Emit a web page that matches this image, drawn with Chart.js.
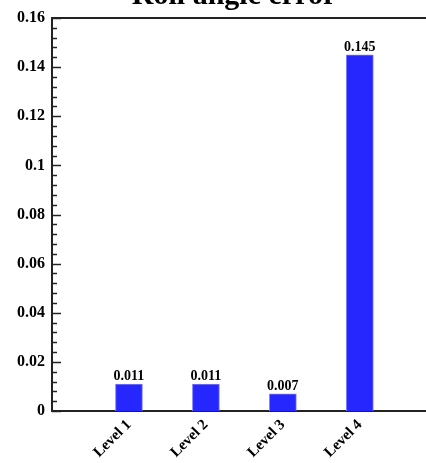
<!DOCTYPE html>
<html>
<head>
  <title>Roll angle error</title>
  <style>
    html, body {
      margin: 0;
      padding: 0;
      overflow: hidden;
      background: #fff;
    }
    #wrap {
      position: relative;
      width: 426px;
      height: 463px;
    }
  </style>
</head>
<body>
  <div id="wrap"><canvas id="chart"></canvas></div>

  <script src="https://cdn.jsdelivr.net/npm/chart.js"></script>
  <script>
    const title = 'Roll angle error';
    const levels = ['Level 1', 'Level 2', 'Level 3', 'Level 4'];
    const positions = [1, 2, 3, 4];
    const errors = [0.011, 0.011, 0.007, 0.145];
    const yTicks = [0, 0.02, 0.04, 0.06, 0.08, 0.1, 0.12, 0.14, 0.16];
    const yMinorStep = 0.004;

    const serif = "'Liberation Serif', 'Times New Roman', serif";

    // inward ticks, frame line on top, value labels over bars, clipped title
    const decorations = {
      id: 'decorations',
      afterDatasetsDraw(chart) {
        const ctx = chart.ctx;
        const area = chart.chartArea;
        const y = chart.scales.y;
        ctx.save();
        ctx.strokeStyle = '#222';
        ctx.lineWidth = 1.5;
        const n = Math.round((y.max - y.min) / yMinorStep);
        for (let i = 0; i <= n; i++) {
          const py = Math.round(y.getPixelForValue(y.min + i * yMinorStep)) + 0.5;
          const len = i % 5 === 0 ? 9 : 5;
          ctx.beginPath();
          ctx.moveTo(area.left, py);
          ctx.lineTo(area.left + len, py);
          ctx.stroke();
        }
        ctx.lineWidth = 2;
        ctx.beginPath();
        ctx.moveTo(area.left - 1, area.top);
        ctx.lineTo(chart.width, area.top);
        ctx.stroke();

        ctx.fillStyle = '#000';
        ctx.font = 'bold 14px ' + serif;
        ctx.textAlign = 'center';
        ctx.textBaseline = 'alphabetic';
        chart.getDatasetMeta(0).data.forEach((bar, i) => {
          ctx.fillText(errors[i].toFixed(3), bar.x, bar.y - 4);
        });

        ctx.font = 'bold 30px ' + serif;
        ctx.fillText(title, (area.left + area.right) / 2 - 5, area.top - 14);
        ctx.restore();
      }
    };

    new Chart(document.getElementById('chart'), {
      type: 'bar',
      data: {
        datasets: [{
          data: positions.map((p, i) => ({ x: p, y: errors[i] })),
          backgroundColor: '#2626ff',
          borderColor: '#7b7bff',
          borderWidth: 1,
          barThickness: 27
        }]
      },
      options: {
        responsive: true,
        maintainAspectRatio: false,
        animation: false,
        layout: { padding: { top: 18, right: 0, bottom: 2, left: 10 } },
        plugins: {
          legend: { display: false },
          tooltip: { enabled: false },
          title: { display: false }
        },
        scales: {
          x: {
            type: 'linear',
            offset: false,
            min: 0,
            max: 4.86,
            afterBuildTicks: (s) => { s.ticks = positions.map(v => ({ value: v })); },
            afterFit: (s) => { s.height = 50; },
            grid: { display: false, drawTicks: false, offset: false },
            border: { display: true, color: '#222', width: 2 },
            ticks: {
              autoSkip: false,
              maxRotation: 45,
              minRotation: 45,
              padding: 5,
              color: '#000',
              font: { family: serif, size: 15, weight: 'bold' },
              callback: (v) => levels[positions.indexOf(v)]
            }
          },
          y: {
            min: 0,
            max: 0.16,
            afterBuildTicks: (s) => { s.ticks = yTicks.map(v => ({ value: v })); },
            grid: { display: false, drawTicks: false },
            border: { display: true, color: '#222', width: 2 },
            ticks: {
              padding: 7,
              color: '#000',
              font: { family: serif, size: 16, weight: 'bold' },
              callback: (v) => String(+v.toFixed(2))
            }
          }
        }
      },
      plugins: [decorations]
    });
  </script>
</body>
</html>
